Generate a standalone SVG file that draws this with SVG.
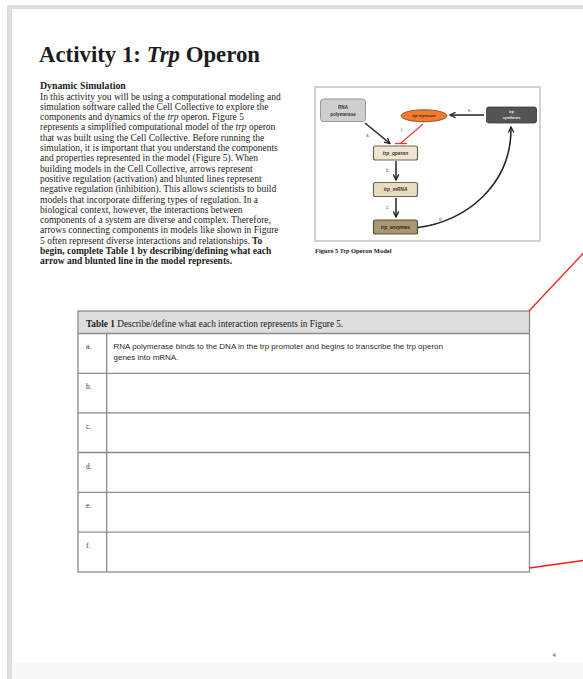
<svg xmlns="http://www.w3.org/2000/svg" width="583" height="679" viewBox="0 0 583 679">
  <style>
    .serif { font-family: "Liberation Serif", "Times New Roman", serif; fill: #1c1c1c; }
    .body { font-size: 9.5px; }
    .b { font-weight: bold; }
    .i { font-style: italic; }
    .sans { font-family: "Liberation Sans", Arial, sans-serif; }
    .node-lbl { font-family: "Liberation Sans", Arial, sans-serif; font-weight: bold; text-anchor: middle; }
    .edge-lbl { font-family: "Liberation Sans", Arial, sans-serif; font-size: 4.5px; fill: #666; }
    .grid { stroke: #8a8a8a; stroke-width: 1.3; fill: none; }
    .edge { stroke: #222; stroke-width: 1.5; fill: none; }
    .rowlbl { font-size: 7.5px; fill: #333; }
  </style>
  <defs>
    <marker id="arrow" viewBox="0 0 10 10" markerWidth="7" markerHeight="7" refX="9" refY="5" orient="auto" markerUnits="userSpaceOnUse">
      <path d="M1,1 L9,5 L1,9" fill="none" stroke="#222" stroke-width="1.8"/>
    </marker>
  </defs>

  <!-- page and its edge -->
  <rect x="0" y="0" width="583" height="679" fill="#ffffff"/>
  <rect x="7" y="5" width="590" height="690" fill="#dedede"/>
  <rect x="12" y="9" width="590" height="653" fill="#ffffff"/>
  <rect x="12" y="662" width="590" height="20" fill="#f8f8f8"/>

  <!-- heading -->
  <text class="serif b" x="39" y="62" font-size="22.8">Activity 1: <tspan class="i">Trp</tspan> Operon</text>
  <text class="serif b" x="40" y="89" font-size="9.8">Dynamic Simulation</text>

  <!-- body paragraph -->
  <g class="serif body">
    <text x="40" y="99.5">In this activity you will be using a computational modeling and</text>
    <text x="40" y="109.8">simulation software called the Cell Collective to explore the</text>
    <text x="40" y="120.1">components and dynamics of the <tspan class="i">trp</tspan> operon. Figure 5</text>
    <text x="40" y="130.4">represents a simplified computational model of the <tspan class="i">trp</tspan> operon</text>
    <text x="40" y="140.7">that was built using the Cell Collective. Before running the</text>
    <text x="40" y="151">simulation, it is important that you understand the components</text>
    <text x="40" y="161.3">and properties represented in the model (Figure 5). When</text>
    <text x="40" y="171.6">building models in the Cell Collective, arrows represent</text>
    <text x="40" y="181.9">positive regulation (activation) and blunted lines represent</text>
    <text x="40" y="192.2">negative regulation (inhibition). This allows scientists to build</text>
    <text x="40" y="202.5">models that incorporate differing types of regulation. In a</text>
    <text x="40" y="212.8">biological context, however, the interactions between</text>
    <text x="40" y="223.1">components of a system are diverse and complex. Therefore,</text>
    <text x="40" y="233.4">arrows connecting components in models like shown in Figure</text>
    <text x="40" y="243.7">5 often represent diverse interactions and relationships. <tspan class="b">To</tspan></text>
    <text class="b" x="40" y="254">begin, complete Table 1 by describing/defining what each</text>
    <text class="b" x="40" y="264.3">arrow and blunted line in the model represents.</text>
  </g>

  <!-- figure frame -->
  <rect x="315" y="87" width="225" height="154" fill="#ffffff" stroke="#c4c4c4" stroke-width="1.5"/>
  <text class="serif b" x="315" y="253" font-size="6.5">Figure 5 <tspan class="i">Trp</tspan> Operon Model</text>

  <!-- connectors -->
  <g id="connectors">
    <line class="edge" x1="365" y1="123" x2="390" y2="143.5" marker-end="url(#arrow)"/>
    <line class="edge" x1="396" y1="161" x2="396" y2="180" marker-end="url(#arrow)"/>
    <line class="edge" x1="396" y1="198" x2="396" y2="217" marker-end="url(#arrow)"/>
    <line class="edge" x1="484" y1="115" x2="450" y2="115" marker-end="url(#arrow)"/>
    <path class="edge" d="M418,227.5 C465,222 512,185 511,127" marker-end="url(#arrow)"/>
    <line x1="423" y1="124" x2="401" y2="143" stroke="#ee3b36" stroke-width="1.1"/>
    <line x1="395" y1="143.5" x2="407" y2="143.5" stroke="#ee3b36" stroke-width="1.3"/>
    <text class="edge-lbl" x="366" y="137">a.</text>
    <text class="edge-lbl" x="386" y="172">b.</text>
    <text class="edge-lbl" x="386" y="209">c.</text>
    <text class="edge-lbl" x="439" y="221">d.</text>
    <text class="edge-lbl" x="468" y="112">e.</text>
    <text class="edge-lbl" x="401" y="132">f.</text>
  </g>

  <!-- nodes -->
  <g id="rna-polymerase">
    <rect x="320.5" y="99" width="45" height="22.5" rx="3" fill="#cfcfcf" stroke="#999" stroke-width="1"/>
    <text class="node-lbl" x="343" y="108.5" font-size="4.6" fill="#333">RNA</text>
    <text class="node-lbl" x="343" y="115.5" font-size="4.6" fill="#333">polymerase</text>
  </g>
  <g id="trp-repressor">
    <ellipse cx="424" cy="115.8" rx="23" ry="6" fill="#f07a2e" stroke="#7a3e12" stroke-width="0.8"/>
    <text class="node-lbl" x="424" y="117.3" font-size="3.8" fill="#3a2210" font-style="italic">trp repressor</text>
  </g>
  <g id="trp-synthesis">
    <rect x="486.5" y="107" width="50" height="16" rx="2" fill="#545454" stroke="#3a3a3a" stroke-width="0.8"/>
    <text class="node-lbl" x="511.5" y="113.3" font-size="3.8" fill="#f2f2f2" font-style="italic">trp</text>
    <text class="node-lbl" x="511.5" y="119" font-size="3.8" fill="#f2f2f2">synthesis</text>
  </g>
  <g id="trp-operon">
    <rect x="373.5" y="146" width="44" height="14" rx="2" fill="#eee6d3" stroke="#6f6552" stroke-width="1.2"/>
    <text class="node-lbl" x="395.5" y="154.7" font-size="4.8" fill="#3a3426" font-style="italic">trp_operon</text>
  </g>
  <g id="trp-mrna">
    <rect x="373.5" y="182.5" width="44" height="14" rx="2" fill="#e8dcc1" stroke="#6f6552" stroke-width="1.2"/>
    <text class="node-lbl" x="395.5" y="191.2" font-size="4.8" fill="#3a3426" font-style="italic">trp_mRNA</text>
  </g>
  <g id="trp-enzymes">
    <rect x="373.5" y="220" width="44" height="14" rx="2" fill="#a99872" stroke="#5a4f38" stroke-width="1.2"/>
    <text class="node-lbl" x="395.5" y="228.7" font-size="4.8" fill="#2e2818" font-style="italic">trp_enzymes</text>
  </g>

  <!-- table -->
  <g id="table">
    <rect x="78" y="311" width="451.5" height="22.5" fill="#dedede"/>
    <rect class="grid" x="78" y="311" width="451.5" height="261"/>
    <line class="grid" x1="78" y1="333.5" x2="529.5" y2="333.5"/>
    <line class="grid" x1="78" y1="373.3" x2="529.5" y2="373.3"/>
    <line class="grid" x1="78" y1="412.8" x2="529.5" y2="412.8"/>
    <line class="grid" x1="78" y1="452.5" x2="529.5" y2="452.5"/>
    <line class="grid" x1="78" y1="492.3" x2="529.5" y2="492.3"/>
    <line class="grid" x1="78" y1="532.2" x2="529.5" y2="532.2" stroke="#666"/>
    <line class="grid" x1="106.7" y1="333.5" x2="106.7" y2="572"/>
    <text class="serif" x="86" y="327" font-size="9.3"><tspan class="b">Table 1</tspan> Describe/define what each interaction represents in Figure 5.</text>
    <text class="serif rowlbl" x="86" y="349">a.</text>
    <text class="sans" x="113.5" y="349" font-size="8" fill="#2a2a2a">RNA polymerase binds to the DNA in the trp promoter and begins to transcribe the trp operon</text>
    <text class="sans" x="113.5" y="359.5" font-size="8" fill="#2a2a2a">genes into mRNA.</text>
    <text class="serif rowlbl" x="86" y="389">b.</text>
    <text class="serif rowlbl" x="86" y="428.5">c.</text>
    <text class="serif rowlbl" x="86" y="468.5">d.</text>
    <text class="serif rowlbl" x="86" y="508.3">e.</text>
    <text class="serif rowlbl" x="86" y="548">f.</text>
  </g>

  <!-- callout lines -->
  <line x1="529" y1="311" x2="592" y2="244" stroke="#ff1a1a" stroke-width="1.3"/>
  <line x1="529.5" y1="568" x2="590" y2="559.5" stroke="#ff1a1a" stroke-width="1.3"/>

  <!-- page number -->
  <text class="sans" x="552.5" y="657" font-size="6" fill="#555">4</text>
</svg>
